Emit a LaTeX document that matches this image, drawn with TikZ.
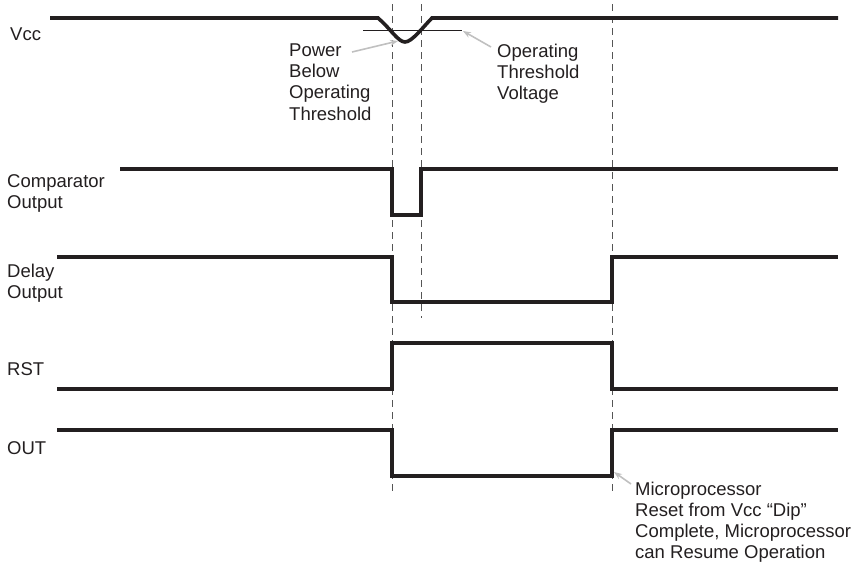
\documentclass[tikz,border=0pt]{standalone}
\usepackage{fontspec}
\setmainfont{Liberation Sans}
\usetikzlibrary{arrows.meta}
\definecolor{ink}{HTML}{231F20}
\definecolor{dashgray}{HTML}{555555}
\definecolor{pointer}{HTML}{C0C0C0}
\begin{document}
\begin{tikzpicture}[x=1pt,y=-1pt,
  signal/.style={draw=ink,line width=3.6pt,line join=miter},
  guide/.style={draw=dashgray,line width=1pt,dash pattern=on 7pt off 5pt},
  lbl/.style={anchor=north west,inner sep=0pt,align=left,text=ink,font=\fontsize{18.5}{21.2}\selectfont},
  callout/.style={draw=pointer,line width=1.6pt,-{Stealth[length=8pt,width=6pt]}}]
\useasboundingbox (0,0) rectangle (857,565);
% guides
\draw[guide] (392,4) -- (392,492);
\draw[guide] (421,4) -- (421,318);
\draw[guide] (612,4) -- (612,492);
% threshold line
\draw[ink,line width=0.8pt] (363,30) -- (462,30);
% Vcc
\draw[signal] (50,18) -- (378,18) .. controls (390,28) and (398,42) .. (405,42)
  .. controls (412,42) and (423,27) .. (432,18) -- (838,18);
% Comparator
\draw[signal] (120,169) -- (392,169) -- (392,215) -- (421,215) -- (421,169) -- (838,169);
% Delay
\draw[signal] (57,257) -- (392,257) -- (392,302) -- (612,302) -- (612,257) -- (838,257);
% RST
\draw[signal] (57,389) -- (392,389) -- (392,343) -- (612,343) -- (612,389) -- (838,389);
% OUT
\draw[signal] (57,430) -- (392,430) -- (392,476) -- (612,476) -- (612,430) -- (838,430);
% labels
\node[lbl] (vcc) at (10,27.5) {Vcc};
\node[lbl] (cmp) at (7,174.5) {Comparator\\Output};
\node[lbl] (dly) at (7,263.5) {Delay\\Output};
\node[lbl] (rst) at (7,362.5) {RST};
\node[lbl] (out) at (7,441.5) {OUT};
\node[lbl] (pbot) at (289,43.5) {Power\\Below\\Operating\\Threshold};
\node[lbl] (otv) at (497,43.5) {Operating\\Threshold\\Voltage};
\node[lbl] (mpr) at (635,481.5) {Microprocessor\\Reset from Vcc “Dip”\\Complete, Microprocessor\\can Resume Operation};
% callouts
\coordinate (dip) at (398,41);
\coordinate (thr) at (463,31);
\coordinate (rise) at (614,472);
\draw[callout] (352,52) -- (dip);
\draw[callout] (491,47) -- (thr);
\draw[callout] (631,484) -- (rise);
\end{tikzpicture}
\end{document}
